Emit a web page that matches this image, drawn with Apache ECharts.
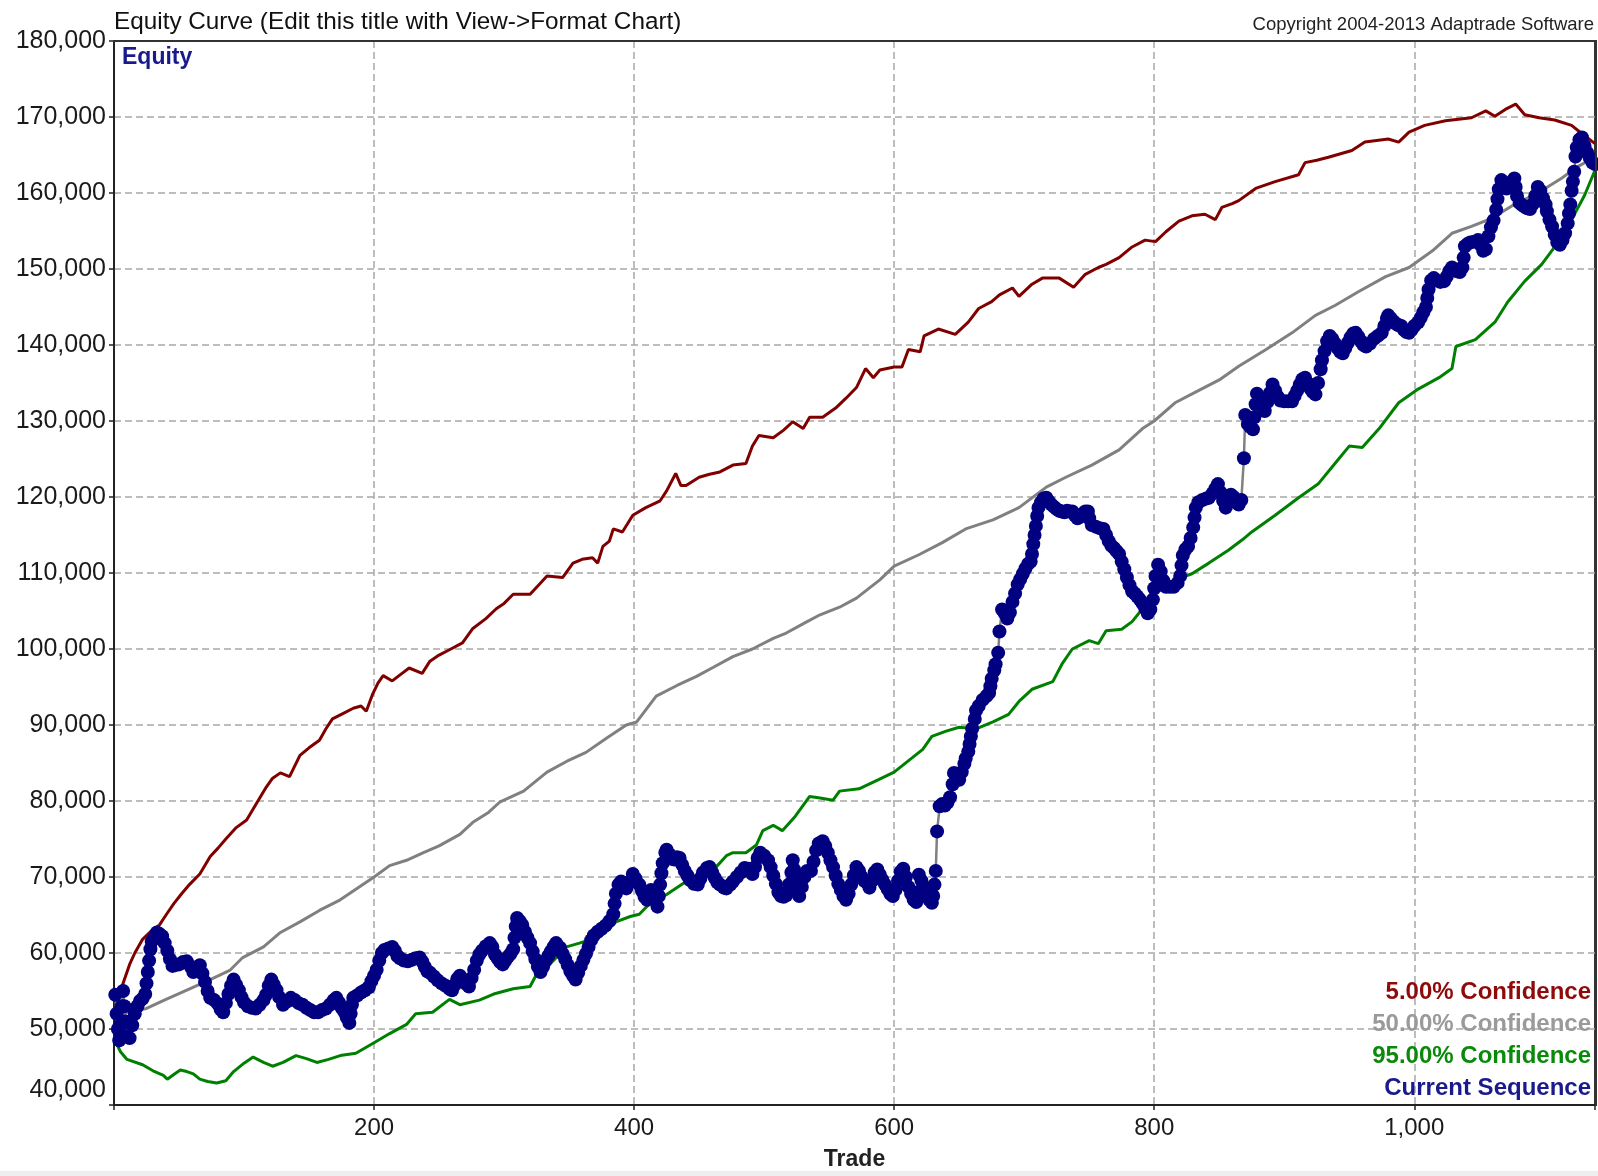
<!DOCTYPE html>
<html>
<head>
<meta charset="utf-8">
<script src="https://cdn.jsdelivr.net/npm/echarts@6/dist/echarts.min.js"></script>
<style>
  html, body { margin: 0; padding: 0; background: #fff; }
  #chart { width: 1598px; height: 1176px; }
</style>
</head>
<body>
<div id="chart"></div>
<script>
// ---------- text ----------
const chartTitle = 'Equity Curve (Edit this title with View->Format Chart)';
const copyrightText = 'Copyright 2004-2013 Adaptrade Software';
const panelLabel = 'Equity';
const xAxisName = 'Trade';
const legendNames = ['5.00% Confidence', '50.00% Confidence', '95.00% Confidence', 'Current Sequence'];

// ---------- axes ----------
const tradeMin = 0, tradeMax = 1139, tradeStep = 200;
const equityMin = 40000, equityMax = 180000, equityStep = 10000;

// ---------- series: [trade, equity] ----------
const conf5 = [[1,52200],[4,54500],[8,56500],[12,58500],[16,60000],[22,61800],[28,62800],[35,63700],[40,65000],[46,66500],[52,67800],[58,69000],[66,70400],[74,72700],[80,73800],[86,75000],[94,76500],[102,77500],[110,79800],[117,81800],[122,83000],[128,83700],[135,83200],[143,86000],[150,87000],[158,88000],[163,89500],[168,90800],[176,91500],[184,92200],[190,92500],[194,91800],[199,94100],[203,95500],[207,96500],[214,95800],[220,96600],[227,97500],[237,96800],[243,98400],[250,99200],[258,99900],[268,100800],[276,102700],[286,104000],[294,105300],[300,106000],[307,107200],[320,107200],[327,108500],[333,109600],[345,109400],[353,111300],[360,111800],[368,112000],[372,111300],[376,113500],[381,114200],[384,115800],[391,115400],[399,117600],[409,118600],[420,119500],[425,120800],[432,123100],[436,121500],[440,121500],[450,122600],[458,123000],[466,123300],[476,124200],[486,124400],[491,126700],[496,128100],[507,127800],[515,128800],[522,129900],[530,129000],[535,130500],[545,130500],[555,131700],[563,133000],[571,134400],[578,136900],[584,135700],[589,136700],[600,137100],[606,137100],[611,139400],[620,139100],[623,141200],[634,142100],[647,141400],[657,143000],[665,144800],[675,145700],[681,146600],[691,147500],[696,146400],[706,148000],[714,148800],[727,148800],[738,147600],[747,149300],[757,150200],[763,150600],[773,151500],[783,152900],[793,153800],[801,153600],[809,154900],[819,156300],[829,157000],[839,157200],[847,156500],[852,158100],[860,158600],[865,159000],[878,160600],[893,161500],[911,162400],[916,164000],[925,164300],[934,164700],[952,165600],[962,166700],[980,167100],[988,166700],[996,168000],[1008,168900],[1024,169500],[1044,169900],[1055,170800],[1062,170100],[1070,171000],[1078,171700],[1085,170300],[1096,169900],[1108,169600],[1121,168900],[1129,167800],[1139,166500]];

const conf50 = [[1,51500],[10,52200],[25,52700],[40,53900],[56,55100],[74,56500],[89,57700],[99,59400],[115,60800],[128,62700],[143,64100],[158,65600],[174,67000],[186,68400],[200,70000],[212,71500],[225,72200],[238,73200],[250,74100],[266,75600],[276,77200],[288,78500],[297,79900],[315,81300],[333,83800],[348,85200],[363,86400],[379,88300],[394,90000],[402,90400],[417,93800],[433,95200],[448,96400],[461,97600],[476,99000],[491,100000],[507,101400],[517,102100],[532,103500],[543,104500],[558,105500],[571,106700],[589,109100],[600,110900],[619,112400],[637,114000],[655,115800],[676,117000],[696,118600],[717,121300],[732,122600],[752,124200],[773,126200],[791,129000],[800,130000],[816,132400],[834,134000],[850,135400],[865,137200],[886,139400],[906,141600],[924,143900],[939,145200],[957,147000],[978,149000],[996,150200],[1014,152400],[1029,154700],[1044,155600],[1060,156700],[1075,158300],[1096,160100],[1113,161900],[1126,163500],[1139,164700]];

const conf95 = [[1,48400],[5,47000],[10,46000],[22,45300],[30,44500],[38,43900],[41,43400],[46,44000],[51,44600],[56,44400],[61,44100],[66,43400],[72,43100],[79,42900],[86,43200],[92,44400],[100,45500],[107,46300],[115,45600],[122,45100],[130,45600],[140,46500],[148,46100],[156,45600],[165,46000],[174,46500],[186,46800],[193,47500],[200,48200],[212,49400],[225,50600],[232,52000],[245,52200],[258,53900],[266,53200],[281,53800],[292,54600],[307,55300],[320,55600],[325,57200],[335,58500],[348,60800],[358,61300],[374,62200],[386,64100],[397,64800],[404,65100],[412,66500],[425,67700],[440,69400],[450,70100],[463,71300],[471,72800],[476,73200],[486,73200],[494,74200],[499,76100],[507,76800],[514,76100],[524,78000],[535,80600],[543,80400],[553,80100],[558,81300],[573,81600],[588,82800],[600,83800],[614,85700],[622,86800],[629,88500],[640,89200],[650,89700],[663,89500],[676,90400],[688,91400],[696,93100],[706,94700],[722,95700],[729,98000],[737,100000],[750,101100],[757,100700],[763,102400],[775,102600],[783,103600],[791,105300],[800,107200],[816,109100],[829,109900],[842,111300],[857,113000],[868,114400],[875,115400],[893,117600],[911,119900],[926,121700],[939,124400],[950,126700],[960,126500],[973,129000],[988,132400],[1003,134200],[1019,135700],[1029,136900],[1032,139800],[1047,140700],[1062,143000],[1072,145700],[1085,148400],[1098,150600],[1108,152900],[1121,156500],[1131,159700],[1139,163000]];

const currentSeq = [[1,54500],[2,52000],[3,50000],[4,48500],[5,50500],[6,53000],[7,55000],[8,53000],[9,51000],[10,49000],[12,48800],[14,50500],[16,52000],[18,53000],[20,53700],[22,54000],[24,54600],[25,56000],[26,57500],[27,59000],[28,60500],[29,61500],[31,62000],[33,62700],[35,62500],[37,62200],[39,61300],[41,60300],[43,59200],[45,58300],[47,58400],[50,58500],[53,58800],[56,58900],[59,58200],[61,57500],[64,58000],[66,58400],[68,57300],[70,56200],[72,55000],[74,54100],[77,53800],[80,53300],[82,52600],[84,52200],[86,53400],[88,54600],[90,55700],[92,56500],[94,55800],[96,55100],[98,54200],[100,53500],[103,53000],[106,52800],[109,52700],[112,53200],[115,53800],[117,54500],[119,55700],[121,56500],[123,55800],[125,55100],[127,54200],[130,53200],[133,53600],[136,54100],[139,53800],[142,53400],[145,53200],[148,52800],[151,52500],[154,52200],[157,52200],[160,52500],[163,52700],[166,53200],[169,53800],[171,54100],[173,53500],[175,52800],[177,52300],[179,51500],[181,50800],[182,52000],[183,53200],[184,54100],[187,54400],[190,54800],[193,55100],[196,55500],[198,56300],[200,57000],[202,57800],[204,59000],[206,60000],[208,60400],[211,60600],[214,60800],[216,60300],[218,59600],[220,59300],[223,59000],[226,58900],[229,59100],[232,59300],[235,59400],[237,58900],[239,58200],[241,57600],[243,57400],[246,56900],[249,56400],[252,56000],[255,55700],[258,55300],[260,55100],[262,55800],[264,56600],[266,57000],[268,56500],[271,55900],[273,55600],[275,56700],[277,57800],[279,59000],[281,59800],[283,60300],[286,60900],[289,61300],[291,60800],[293,59800],[295,59300],[297,58800],[299,58500],[301,59000],[303,59500],[305,59900],[307,60500],[308,62000],[309,63500],[310,64600],[312,64200],[314,63700],[316,62800],[318,62000],[320,61300],[322,60200],[324,59200],[326,58200],[328,57500],[330,58200],[332,59000],[334,59600],[336,60200],[338,60800],[340,61300],[343,60700],[345,59900],[347,59200],[349,58400],[351,57600],[353,57000],[355,56500],[357,57400],[359,58300],[361,59100],[363,59900],[365,60800],[367,61700],[369,62300],[372,62800],[375,63200],[378,63600],[381,64200],[384,65100],[385,66500],[386,67800],[388,69000],[390,69400],[392,69000],[394,68500],[396,69300],[399,70400],[401,69800],[404,69000],[406,68200],[408,67400],[410,67000],[413,68300],[416,67200],[418,66100],[419,67500],[420,69000],[421,70500],[422,71800],[424,73200],[425,73600],[427,73000],[429,72400],[431,72300],[433,72600],[435,72500],[437,71600],[439,70800],[441,70200],[443,69600],[446,69100],[449,69000],[451,69800],[453,70600],[456,71200],[458,71300],[460,70600],[462,69900],[464,69300],[466,69000],[469,68600],[471,68500],[474,69000],[476,69400],[479,70000],[482,70600],[485,71200],[488,71100],[491,70400],[493,71300],[495,72500],[497,73200],[500,72800],[503,72200],[505,71300],[507,70200],[509,69100],[511,68000],[513,67500],[515,67400],[517,67600],[519,69000],[521,70600],[522,72200],[523,71000],[524,69800],[525,68600],[527,67500],[529,68700],[531,70000],[533,70800],[536,70800],[538,72000],[540,73500],[542,74400],[545,74700],[547,74100],[549,73200],[551,72200],[553,71300],[555,70200],[557,69100],[559,68300],[561,67500],[563,67000],[565,67800],[567,69000],[569,70200],[571,71300],[573,70800],[575,70000],[577,69500],[579,69300],[581,68600],[583,69500],[585,70600],[587,71000],[589,70300],[591,69600],[593,69000],[595,68400],[597,67800],[599,67500],[601,68300],[603,69500],[605,70700],[607,71100],[609,70000],[611,68700],[613,67800],[615,67000],[617,66700],[618,68000],[619,70300],[621,69500],[623,68600],[625,67700],[627,67000],[629,66600],[630,67500],[631,69000],[632,70800],[633,76000],[635,79300],[637,79600],[639,79400],[641,79800],[643,80500],[645,82200],[646,83700],[648,83300],[650,82800],[652,83800],[654,84900],[655,85600],[657,86500],[658,87500],[659,88500],[660,89500],[662,90800],[663,91900],[665,92500],[668,93300],[671,93800],[673,94200],[674,95100],[675,96100],[677,97200],[678,98000],[680,99500],[681,102300],[683,105200],[685,104700],[687,104000],[689,104800],[691,106200],[693,107300],[695,108500],[697,109200],[699,109900],[701,110600],[703,111200],[705,111500],[706,112500],[707,113800],[708,115000],[709,116200],[710,117500],[711,118600],[713,119300],[715,119800],[717,119900],[719,119400],[721,119000],[723,118700],[725,118400],[727,118200],[729,118100],[731,118000],[733,118200],[735,118100],[737,118100],[739,117600],[741,117200],[743,117400],[745,117800],[747,118100],[749,118100],[750,117200],[752,116300],[755,116100],[758,115900],[761,115800],[763,115000],[765,114200],[767,113600],[769,113300],[771,112900],[773,112500],[775,111500],[777,110500],[779,109400],[781,108400],[783,107600],[785,107300],[787,106900],[789,106500],[791,106000],[793,105400],[795,104700],[797,105200],[799,106500],[800,108000],[801,109600],[803,111100],[805,110200],[807,109000],[809,108200],[812,108200],[815,108200],[818,108700],[820,109600],[821,111000],[822,112300],[824,113100],[826,113500],[828,114600],[830,116000],[831,117300],[832,118600],[834,119300],[837,119600],[840,119800],[842,119900],[845,120500],[847,121100],[849,121700],[851,120600],[853,119500],[855,118600],[857,119400],[859,120300],[861,120000],[863,119300],[865,119000],[867,119600],[869,125100],[870,130800],[872,129600],[874,129200],[876,128900],[877,130500],[878,132200],[879,133600],[881,133100],[883,132300],[885,131300],[887,132500],[889,133700],[891,134800],[893,134000],[895,133200],[897,132700],[900,132600],[903,132600],[906,132600],[908,133300],[910,134000],[912,134800],[914,135500],[916,135700],[918,135000],[920,134300],[922,133800],[924,133500],[926,135000],[928,136800],[929,138000],[931,139200],[933,140500],[935,141200],[937,140800],[939,140200],[941,139600],[943,139100],[945,138900],[947,139600],[949,140300],[951,141000],[953,141500],[955,141600],[957,141100],[959,140500],[961,140000],[963,139800],[966,140200],[969,140800],[972,141200],[975,141600],[977,142500],[979,143500],[980,143900],[982,143500],[984,143100],[986,142800],[988,142600],[990,142500],[992,142000],[994,141700],[996,141600],[998,142000],[1000,142500],[1003,143000],[1005,143600],[1007,144300],[1009,145000],[1010,146200],[1011,147300],[1013,148500],[1015,148800],[1017,148500],[1020,148300],[1023,148400],[1025,149000],[1027,149700],[1029,150200],[1031,149900],[1033,149700],[1035,149600],[1037,150200],[1038,151500],[1039,153000],[1041,153300],[1043,153500],[1046,153600],[1049,153800],[1051,153200],[1053,152400],[1055,152600],[1057,154300],[1059,155500],[1061,156400],[1063,157800],[1064,159200],[1065,160500],[1067,161700],[1069,161200],[1071,160600],[1073,160900],[1075,161500],[1077,161900],[1078,160800],[1079,159600],[1081,158700],[1083,158400],[1085,158200],[1087,158000],[1089,157900],[1091,158500],[1093,159600],[1095,160800],[1097,160300],[1099,159300],[1101,158500],[1102,157600],[1104,156500],[1106,155600],[1108,154500],[1110,153500],[1112,153200],[1114,153800],[1116,154700],[1118,156000],[1119,157300],[1120,158500],[1121,160300],[1122,161500],[1123,162800],[1124,164800],[1125,166000],[1127,167000],[1129,167300],[1131,166200],[1133,165300],[1135,164600],[1137,164000],[1139,163800]];

// ---------- styling ----------
const FONT = '"Liberation Sans", Arial, sans-serif';
const lineColors = ['#800000', '#808080', '#008000'];
const legendColors = ['#8f0a0a', '#9a9a9a', '#0a8a0a', '#1a1a8c'];
const gridLine = { show: true, showMinLine: false, showMaxLine: false,
  lineStyle: { color: '#a8a8a8', width: 1.5, type: [7, 4] } };

const chart = echarts.init(document.getElementById('chart'), null, { renderer: 'canvas' });

const fmt = v => Math.round(v).toLocaleString('en-US');

const legendGraphics = legendNames.map((name, i) => ({
  type: 'text',
  x: 1591,
  y: [992, 1024, 1056, 1088][i],
  style: {
    text: name,
    fill: legendColors[i],
    font: 'bold 24px ' + FONT,
    align: 'right',
    verticalAlign: 'middle'
  },
  z: 100
}));

const option = {
  animation: false,
  backgroundColor: '#fff',
  textStyle: { fontFamily: FONT },
  title: [
    {
      text: chartTitle, left: 114, top: 10, padding: 0,
      textStyle: { fontFamily: FONT, fontSize: 24.3, fontWeight: 'normal', color: '#111' }
    },
    {
      text: copyrightText, right: 4, top: 15, padding: 0,
      textStyle: { fontFamily: FONT, fontSize: 18.5, fontWeight: 'normal', color: '#222' }
    }
  ],
  grid: {
    left: 114, right: 2, top: 41, bottom: 70,
    show: true, borderColor: '#333', borderWidth: 2, backgroundColor: 'transparent'
  },
  xAxis: {
    type: 'value', min: tradeMin, max: tradeMax, interval: tradeStep,
    name: xAxisName, nameLocation: 'middle', nameGap: 43,
    nameTextStyle: { fontFamily: FONT, fontSize: 23, fontWeight: 'bold', color: '#222' },
    axisLine: { show: true, lineStyle: { color: '#222', width: 2 } },
    axisTick: { show: true, length: 5, lineStyle: { color: '#222', width: 1.5 } },
    axisLabel: {
      fontFamily: FONT, fontSize: 24, color: '#1a1a1a', margin: 11,
      formatter: v => (v > 0 && v % tradeStep === 0) ? fmt(v) : ''
    },
    splitLine: gridLine
  },
  yAxis: {
    type: 'value', min: equityMin, max: equityMax, interval: equityStep,
    axisLine: { show: true, lineStyle: { color: '#222', width: 2 } },
    axisTick: { show: true, length: 5, lineStyle: { color: '#222', width: 1.5 } },
    axisLabel: {
      fontFamily: FONT, fontSize: 25, color: '#1a1a1a', margin: 8,
      formatter: v => v === equityMin ? '{lo|' + fmt(v) + '}' : fmt(v),
      rich: { lo: { fontFamily: FONT, fontSize: 25, color: '#1a1a1a', padding: [0, 0, 30, 0] } }
    },
    splitLine: gridLine
  },
  series: [
    { name: legendNames[0], type: 'line', data: conf5, symbol: 'none', silent: true,
      lineStyle: { color: lineColors[0], width: 3 }, z: 2 },
    { name: legendNames[1], type: 'line', data: conf50, symbol: 'none', silent: true,
      lineStyle: { color: lineColors[1], width: 3 }, z: 2 },
    { name: legendNames[2], type: 'line', data: conf95, symbol: 'none', silent: true,
      lineStyle: { color: lineColors[2], width: 3 }, z: 2 },
    { name: legendNames[3], type: 'line', data: currentSeq, silent: true,
      symbol: 'circle', symbolSize: 14, showSymbol: true,
      itemStyle: { color: '#000080', borderWidth: 0 },
      lineStyle: { color: '#808080', width: 2.5 }, z: 3 }
  ],
  graphic: [
    {
      type: 'text', x: 122, y: 58,
      style: { text: panelLabel, fill: '#1a1a8c', font: 'bold 23px ' + FONT, align: 'left', verticalAlign: 'middle' },
      z: 100
    },
    ...legendGraphics,
    { type: 'line', shape: { x1: 113, y1: 41, x2: 1597, y2: 41 }, style: { stroke: '#333', lineWidth: 2 }, z: 50 },
    { type: 'line', shape: { x1: 1596, y1: 41, x2: 1596, y2: 1106 }, style: { stroke: '#333', lineWidth: 2 }, z: 50 },
    { type: 'rect', shape: { x: 0, y: 1171, width: 1598, height: 5 }, style: { fill: '#eeeeee' }, z: 0 }
  ]
};

chart.setOption(option);
</script>
</body>
</html>
